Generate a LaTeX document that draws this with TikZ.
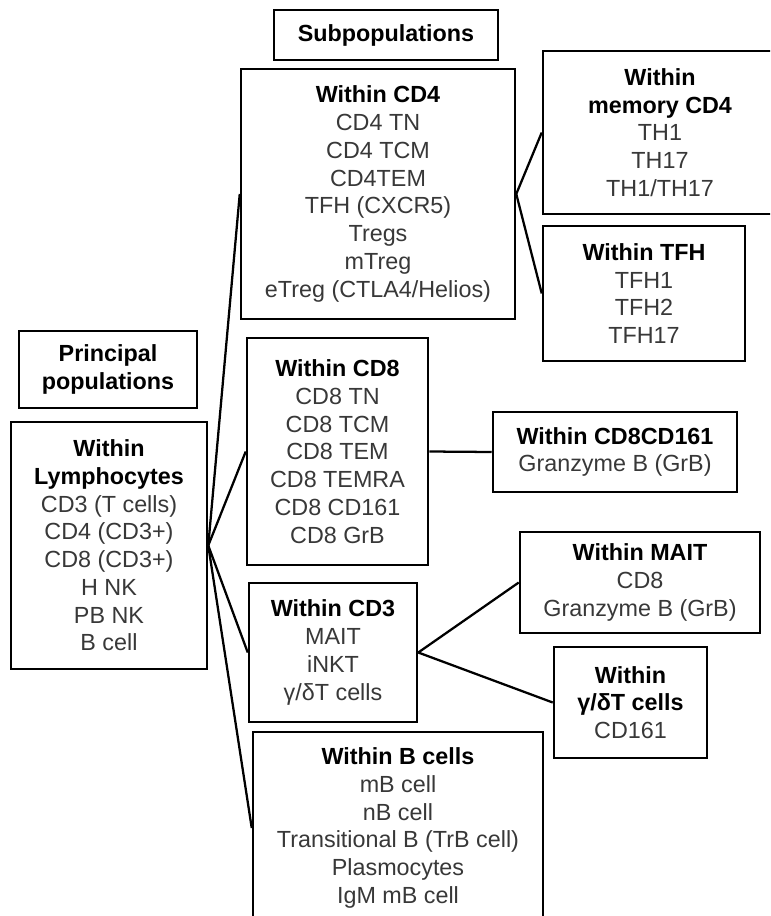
\documentclass[tikz,border=0pt]{standalone}
\usepackage{fontspec}
\setmainfont{Liberation Sans}
\begin{document}
\begin{tikzpicture}[x=0.75pt,y=-0.75pt,
  box/.style={draw=black, line width=1.9pt, rectangle, inner sep=0pt, align=center,
    font=\fontsize{17.5}{20.8}\selectfont, text=black!78},
  conn/.style={draw=black, line width=1.7pt}]
\clip (0,0) rectangle (770,916);
\fill[white] (0,0) rectangle (770,916);
\newcommand\hb[1]{{\color{black}\bfseries #1}}
% boxes
\node[box, minimum width=168pt, minimum height=37.5pt] (sub) at (386,35) {\hb{Subpopulations}};
\node[box, minimum width=205.5pt, minimum height=187.5pt] (cd4) at (378,194)
  {\hb{Within CD4}\\CD4 TN\\CD4 TCM\\CD4TEM\\TFH (CXCR5)\\Tregs\\mTreg\\eTreg (CTLA4/Helios)};
\node[box, minimum width=175.5pt, minimum height=122.25pt] (mem) at (660,132.5)
  {\hb{Within}\\\hb{memory CD4}\\TH1\\TH17\\TH1/TH17};
\node[box, minimum width=151.5pt, minimum height=101.25pt] (tfh) at (644,293.5)
  {\hb{Within TFH}\\TFH1\\TFH2\\TFH17};
\node[box, minimum width=133.5pt, minimum height=57.75pt] (prin) at (108,369.5)
  {\hb{Principal}\\\hb{populations}};
\node[box, minimum width=147pt, minimum height=185.25pt] (lym) at (109,545.5)
  {\hb{Within}\\\hb{Lymphocytes}\\CD3 (T cells)\\CD4 (CD3+)\\CD8 (CD3+)\\H NK\\PB NK\\B cell};
\node[box, minimum width=135.75pt, minimum height=170.25pt] (cd8) at (337.5,451.5)
  {\hb{Within CD8}\\CD8 TN\\CD8 TCM\\CD8 TEM\\CD8 TEMRA\\CD8 CD161\\CD8 GrB};
\node[box, minimum width=183pt, minimum height=60pt] (cd8161) at (615,452)
  {\hb{Within CD8CD161}\\Granzyme B (GrB)};
\node[box, minimum width=180pt, minimum height=75.75pt] (mait) at (640,582.5)
  {\hb{Within MAIT}\\CD8\\Granzyme B (GrB)};
\node[box, minimum width=126pt, minimum height=104.25pt] (cd3) at (333,652.5)
  {\hb{Within CD3}\\MAIT\\iNKT\\γ/δT cells};
\node[box, minimum width=114.75pt, minimum height=83.25pt] (gd) at (630.5,702.5)
  {\hb{Within}\\\hb{γ/δT cells}\\CD161};
\node[box, minimum width=217.5pt, minimum height=144pt] (bcell) at (398,828)
  {\hb{Within B cells}\\mB cell\\nB cell\\Transitional B (TrB cell)\\Plasmocytes\\IgM mB cell};
% connectors
\draw[conn] (lym.east) -- (cd4.west);
\draw[conn] (lym.east) -- (cd8.west);
\draw[conn] (lym.east) -- (cd3.west);
\draw[conn] (lym.east) -- (bcell.west);
\draw[conn] (cd4.east) -- (mem.west);
\draw[conn] (cd4.east) -- (tfh.west);
\draw[conn] (cd8.east) -- (cd8161.west);
\draw[conn] (cd3.east) -- (mait.west);
\draw[conn] (cd3.east) -- (gd.west);
\end{tikzpicture}
\end{document}
